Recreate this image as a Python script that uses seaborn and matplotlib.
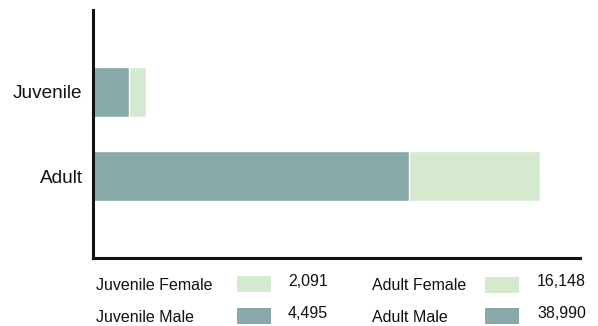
import matplotlib
matplotlib.use("Agg")
import matplotlib.pyplot as plt
from matplotlib.patches import Rectangle
import seaborn as sns
import pandas as pd

# Data
categories = ["Juvenile", "Adult"]
male_counts = [4495, 38990]
female_counts = [2091, 16148]
legend_labels = [["Juvenile Female", "Juvenile Male"], ["Adult Female", "Adult Male"]]
legend_values = [[female_counts[0], male_counts[0]], [female_counts[1], male_counts[1]]]

MALE_COLOR = "#87A9A8"
FEMALE_COLOR = "#D5E9CF"

sns.set_theme(style="white")
plt.rcParams["font.family"] = ["Liberation Sans", "DejaVu Sans"]

df = pd.DataFrame({
    "category": categories,
    "male": male_counts,
    "female": female_counts,
})
df["total"] = df["male"] + df["female"]

W, H = 598, 326
fig = plt.figure(figsize=(W / 100, H / 100), dpi=100)
ax = fig.add_axes([93 / W, 1 - 258 / H, (580 - 93) / W, (258 - 10) / H])

# Stacked bars: full total in female colour, male share drawn over it
sns.barplot(data=df, x="total", y="category", color=FEMALE_COLOR, width=0.595,
            saturation=1, ax=ax, orient="h")
sns.barplot(data=df, x="male", y="category", color=MALE_COLOR, width=0.595,
            saturation=1, ax=ax, orient="h")

ax.set_xlim(0, 60090)
ax.set_ylim(1.976, -0.976)
ax.set_xlabel("")
ax.set_ylabel("")
ax.set_xticks([])
ax.tick_params(axis="y", length=0, labelsize=13.7, pad=7.5, labelcolor="#111111")
for side in ("top", "right"):
    ax.spines[side].set_visible(False)
for side in ("left", "bottom"):
    ax.spines[side].set_color("#111111")
    ax.spines[side].set_linewidth(2.2)

# Value table beneath the chart
def fx(px):
    return px / W

def fy(py):
    return 1 - py / H

row_y = [284, 316]
label_x = [96, 372]
swatch_x = [237, 485]
value_right = [328, 586]
for c in range(2):
    for r in range(2):
        color = FEMALE_COLOR if r == 0 else MALE_COLOR
        yc = row_y[r] + (0 if c == 0 or r == 1 else 1)
        fig.text(fx(label_x[c]), fy(row_y[r] + 1), legend_labels[c][r],
                 fontsize=11.5, color="#111111", va="center", ha="left")
        fig.patches.append(Rectangle((fx(swatch_x[c]), fy(yc + 8)),
                                     34 / W, 16 / H, transform=fig.transFigure,
                                     facecolor=color, edgecolor="none"))
        fig.text(fx(value_right[c]), fy(row_y[r] - 2), f"{legend_values[c][r]:,}",
                 fontsize=11.5, color="#111111", va="center", ha="right")

fig.savefig("out.png", dpi=100, facecolor="white")
